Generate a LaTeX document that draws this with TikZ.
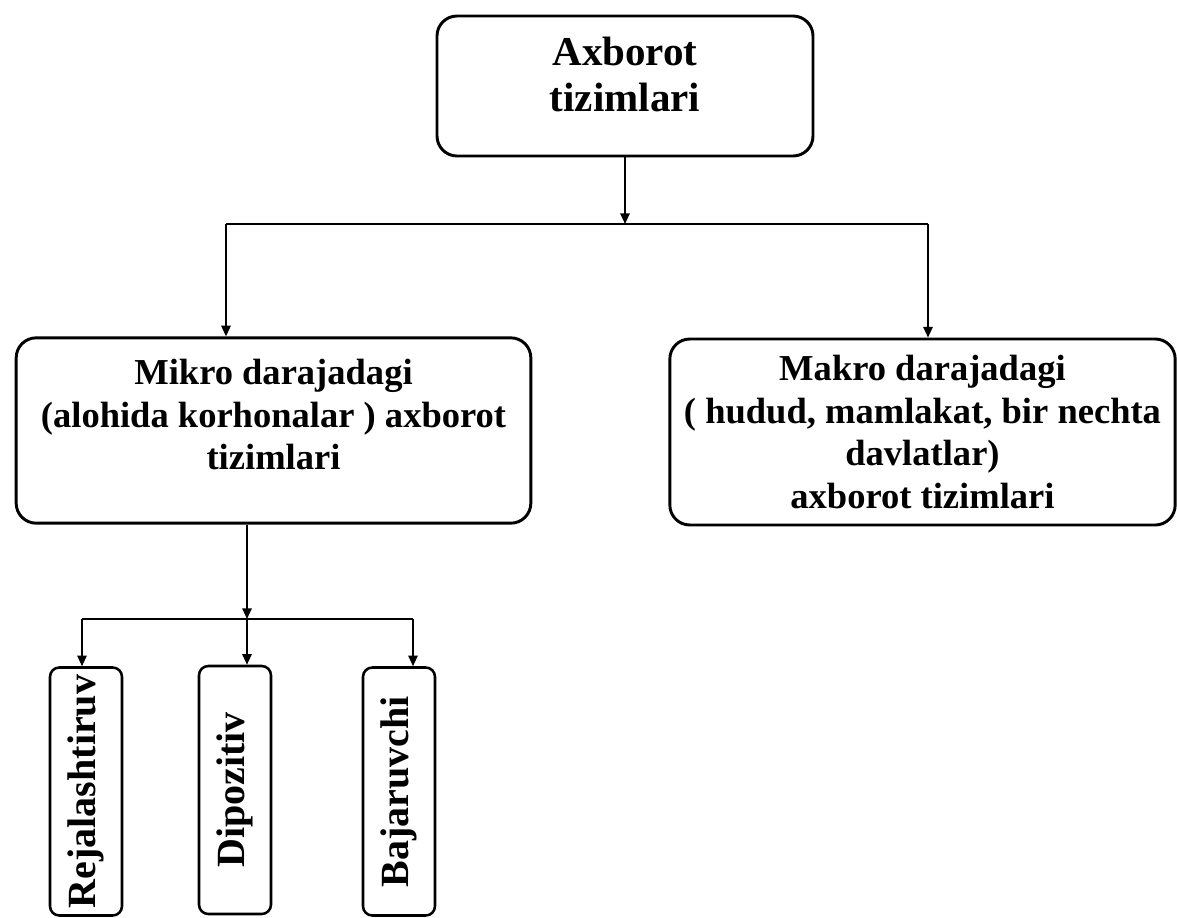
\documentclass[tikz,border=0pt]{standalone}
\usepackage{fontspec}
\setmainfont{Liberation Serif}
\usetikzlibrary{arrows.meta}

\begin{document}
\begin{tikzpicture}[x=0.75pt,y=0.75pt,yscale=-1,xscale=1,
    box/.style={draw, line width=2.2pt, rounded corners=15pt, inner sep=0pt, align=center, font=\bfseries\fontsize{27.4}{32}\selectfont},
    vbox/.style={draw, line width=1.9pt, rounded corners=7pt, inner sep=0pt, rotate=90, minimum width=186pt, minimum height=54pt, font=\bfseries\fontsize{30}{36}\selectfont},
    link/.style={line width=1.4pt},
    arr/.style={link, -{Triangle[length=8pt,width=7pt]}}]
    \useasboundingbox (0,0) rectangle (1177,917);

    %Shape: Rounded Rect [id:top]
    \node [box, minimum width=282pt, minimum height=105pt, text depth=18pt, font=\bfseries\fontsize{30.75}{34.5}\selectfont] (top) at (625,86) {Axborot\\tizimlari};
    %Shape: Rounded Rect [id:micro]
    \node [box, minimum width=386pt, minimum height=139pt, text depth=24pt] (micro) at (273.5,430.5) {Mikro darajadagi\\(alohida korhonalar ) axborot\\tizimlari};
    %Shape: Rounded Rect [id:macro]
    \node [box, minimum width=379pt, minimum height=139.5pt] (macro) at (922.5,432) {Makro darajadagi\\( hudud, mamlakat, bir nechta\\davlatlar)\\axborot tizimlari};
    %Shape: Rounded Rect [id:rej]
    \node [vbox] (rej) at (86,791.5) {Rejalashtiruv};
    %Shape: Rounded Rect [id:dip]
    \node [vbox] (dip) at (235,790) {Dipozitiv};
    %Shape: Rounded Rect [id:baj]
    \node [vbox] (baj) at (399,791.5) {Bajaruvchi};

    % Split points
    \coordinate (split) at (625,224);
    \coordinate (hl) at (226,224);
    \coordinate (hr) at (928,224);
    \coordinate (split2) at (247,619);
    \coordinate (bl) at (82,619);
    \coordinate (br) at (413,619);

    % Connectors
    \draw [arr] (top.south) -- (split);
    \draw [link] (hl) -- (hr);
    \draw [arr] (hl) -- (micro.north -| hl);
    \draw [arr] (hr) -- (macro.north -| hr);
    \draw [arr] (micro.south -| split2) -- (split2);
    \draw [link] (bl) -- (br);
    \draw [arr] (bl) -- (bl |- rej.east);
    \draw [arr] (split2) -- (split2 |- dip.east);
    \draw [arr] (br) -- (br |- baj.east);

\end{tikzpicture}
\end{document}
